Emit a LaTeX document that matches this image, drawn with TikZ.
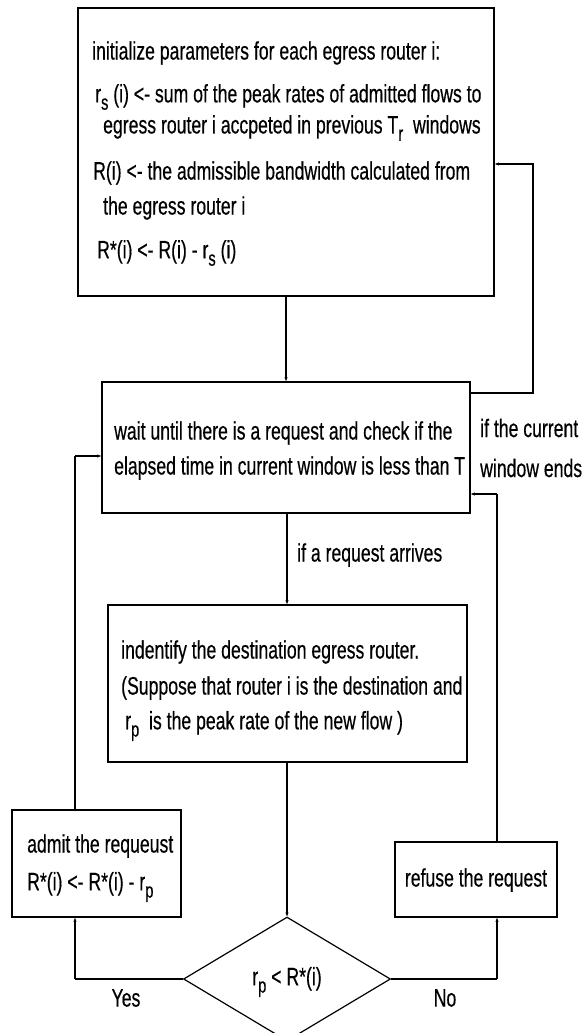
\documentclass[tikz,border=0pt]{standalone}
\usepackage{fontspec}
\setmainfont[FakeStretch=0.70,FakeBold=0.4]{Liberation Sans}
\usetikzlibrary{arrows.meta,shapes.geometric}
\newcommand\sbs[1]{\raisebox{-0.55ex}{\fontsize{21}{21}\selectfont #1}}
\begin{document}
\begin{tikzpicture}[x=1pt,y=-1pt,
  every node/.style={font=\fontsize{25.2}{30}\selectfont},
  box/.style={draw,line width=1.6pt,rectangle,inner sep=0pt},
  txt/.style={align=left,anchor=west,inner sep=0pt},
  lab/.style={inner sep=0pt},
  arr/.style={line width=1.1pt,-{Stealth[length=4pt,width=3pt]}},
  ln/.style={line width=1.1pt}]
\clip (0,0) rectangle (583,1033);
% boxes
\node[box,minimum width=416pt,minimum height=288pt] (b1) at (286,152) {};
\node[box,minimum width=368pt,minimum height=131pt] (b2) at (286,447.5) {};
\node[box,minimum width=359pt,minimum height=157pt] (b3) at (287.5,683.5) {};
\node[box,minimum width=169pt,minimum height=107pt] (ad) at (96.5,863.5) {};
\node[box,minimum width=162pt,minimum height=75pt] (rf) at (476,879.5) {};
\node[draw,line width=1.2pt,diamond,aspect=1.67,minimum width=207pt,minimum height=124pt,inner sep=0pt] (d) at (287,979) {};
% box texts
\node[txt] (t1a) at (92,53) {initialize parameters for each egress router i:};
\node[txt] (t1b) at (95,97) {r\sbs{s} (i) <- sum of the peak rates of admitted flows to};
\node[txt] (t1c) at (103,128) {egress router i accpeted in previous T\sbs{r}\ \ windows};
\node[txt] (t1d) at (93,173) {R(i) <- the admissible bandwidth calculated from};
\node[txt] (t1e) at (103,208) {the egress router i};
\node[txt] (t1f) at (97,253) {R*(i) <- R(i) - r\sbs{s} (i)};
\node[txt] (t2a) at (114,433) {wait until there is a request and check if the};
\node[txt] (t2b) at (114,468) {elapsed time in current window is less than T};
\node[txt] (t3a) at (121,652) {indentify the destination egress router.};
\node[txt] (t3b) at (121,688) {(Suppose that router i is the destination and};
\node[txt] (t3c) at (125,726) {r\sbs{p}\ \ is the peak rate of the new flow )};
\node[txt] (t4a) at (27,846) {admit the requeust};
\node[txt] (t4b) at (27,887) {R*(i) <- R*(i) - r\sbs{p}};
\node[lab] (t5) at (476,880) {refuse the request};
\node[lab] (t6) at (287,982) {r\sbs{p} < R*(i)};
% labels
\node[txt] (l1) at (297,555) {if a request arrives};
\node[txt] (l2) at (480,428) {if the current};
\node[txt] (l3) at (480,468) {window ends};
\node[lab] (ly) at (126,998) {Yes};
\node[lab] (lno) at (445,998) {No};
% connectors
\coordinate (f1) at (533,393);
\coordinate (f2) at (533,164);
\coordinate (g1) at (497,979);
\coordinate (g2) at (497,494);
\coordinate (h1) at (75,979);
\coordinate (h2) at (75,456);
\draw[arr] (b1.south) -- (b2.north);
\draw[arr] (b2.east |- f1) -- (f1) -- (f2) -- (b1.east |- f2);
\draw[arr] (b2.south -| d.north) -- (b3.north -| d.north);
\draw[arr] (b3.south -| d.north) -- (d.north);
\draw[ln] (d.west) -- (h1);
\draw[arr] (h1) -- (h1 |- ad.south);
\draw[ln] (ad.north -| h1) -- (h2);
\draw[arr] (h2) -- (b2.west |- h2);
\draw[ln] (d.east) -- (g1);
\draw[arr] (g1) -- (g1 |- rf.south);
\draw[ln] (rf.north -| g1) -- (g2);
\draw[arr] (g2) -- (b2.east |- g2);
\end{tikzpicture}
\end{document}
